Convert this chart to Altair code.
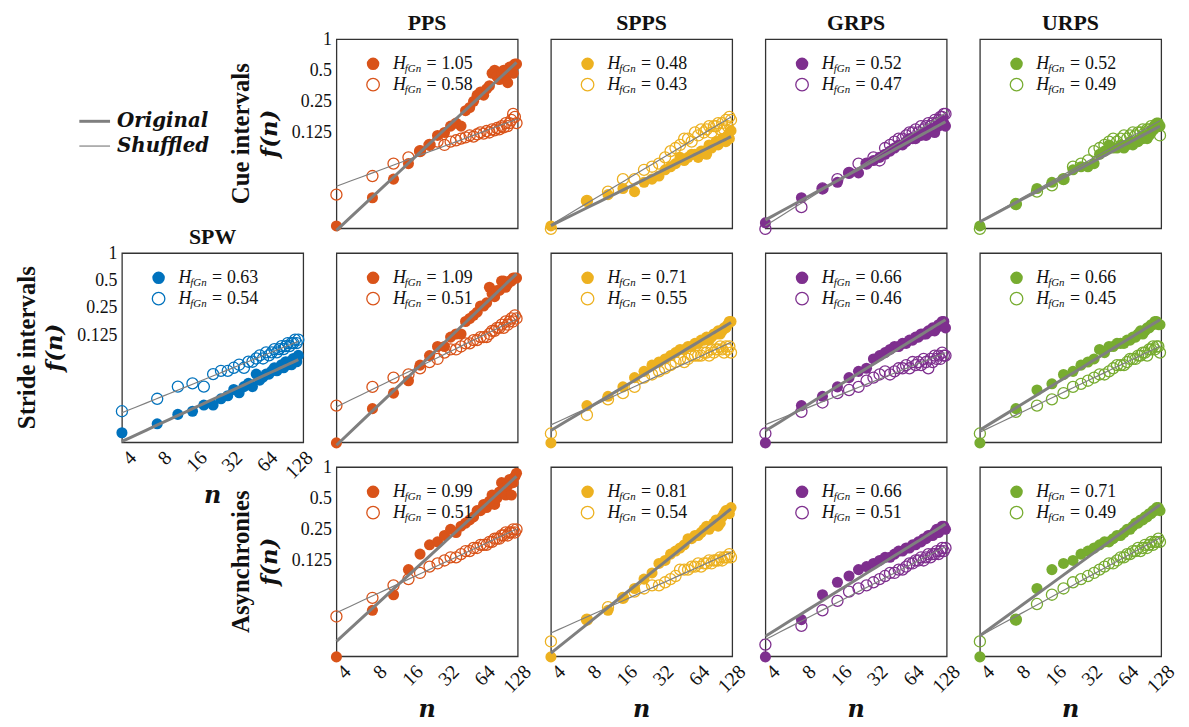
import altair as alt
import pandas as pd

# window sizes n
N = [4, 8, 12, 16, 20, 24, 28, 32, 36, 40, 44, 48, 52, 56, 60, 64,
     68, 72, 76, 80, 84, 88, 92, 96, 100, 104, 108, 112, 116, 120, 124, 128]

# ---- Cue intervals f(n) ----
CUE_PPS_O = [0.0156, 0.0292, 0.0442, 0.0625, 0.0825, 0.0947, 0.117, 0.125, 0.144, 0.154, 0.144, 0.203, 0.218, 0.25, 0.287, 0.308,
             0.287, 0.33, 0.354, 0.467, 0.5, 0.435, 0.406, 0.467, 0.5, 0.435, 0.379, 0.536, 0.536, 0.467, 0.574, 0.574]
CUE_PPS_S = [0.0313, 0.0474, 0.0625, 0.0718, 0.0825, 0.0947, 0.102, 0.0947, 0.102, 0.105, 0.109, 0.112, 0.117, 0.114, 0.120, 0.125,
             0.122, 0.129, 0.125, 0.134, 0.131, 0.138, 0.134, 0.144, 0.140, 0.154, 0.144, 0.154, 0.165, 0.189, 0.177, 0.154]
CUE_SPPS_O = [0.0156, 0.0272, 0.0313, 0.0359, 0.0335, 0.0412, 0.0442, 0.0474, 0.0544, 0.0583, 0.0625, 0.0718, 0.0670, 0.0718, 0.0769, 0.0769,
              0.0718, 0.0825, 0.0825, 0.0769, 0.0947, 0.0884, 0.0947, 0.102, 0.0947, 0.102, 0.109, 0.109, 0.102, 0.117, 0.109, 0.130]
CUE_SPPS_S = [0.0146, 0.0272, 0.0335, 0.0442, 0.0442, 0.0544, 0.0583, 0.0625, 0.0718, 0.0825, 0.0884, 0.0947, 0.109, 0.109, 0.102, 0.125,
              0.117, 0.134, 0.125, 0.134, 0.144, 0.125, 0.144, 0.144, 0.154, 0.134, 0.154, 0.134, 0.165, 0.144, 0.177, 0.165]
CUE_GRPS_O = [0.0167, 0.0292, 0.0359, 0.0412, 0.0508, 0.0508, 0.0625, 0.0670, 0.0718, 0.0769, 0.0825, 0.0884, 0.0947, 0.0947, 0.102, 0.109,
              0.109, 0.109, 0.117, 0.117, 0.125, 0.117, 0.125, 0.134, 0.134, 0.125, 0.144, 0.144, 0.154, 0.165, 0.154, 0.144]
CUE_GRPS_S = [0.0146, 0.0237, 0.0359, 0.0442, 0.0508, 0.0625, 0.0625, 0.0718, 0.0670, 0.0884, 0.0947, 0.102, 0.109, 0.109, 0.117, 0.125,
              0.125, 0.134, 0.125, 0.144, 0.134, 0.144, 0.154, 0.144, 0.154, 0.165, 0.154, 0.165, 0.177, 0.177, 0.189, 0.189]
CUE_URPS_O = [0.0156, 0.0254, 0.0359, 0.0412, 0.0442, 0.0544, 0.0583, 0.0583, 0.0625, 0.0769, 0.0825, 0.0947, 0.0884, 0.0884, 0.0947, 0.0884,
              0.0947, 0.102, 0.0947, 0.102, 0.102, 0.109, 0.109, 0.117, 0.109, 0.117, 0.125, 0.134, 0.144, 0.154, 0.154, 0.144]
CUE_URPS_S = [0.0146, 0.0254, 0.0335, 0.0385, 0.0442, 0.0583, 0.0625, 0.0670, 0.0825, 0.0884, 0.0947, 0.102, 0.109, 0.102, 0.109, 0.117,
              0.109, 0.117, 0.125, 0.117, 0.125, 0.125, 0.134, 0.125, 0.134, 0.134, 0.144, 0.134, 0.144, 0.144, 0.144, 0.117]

# ---- Stride intervals f(n) ----
STR_SPW_O = [0.0107, 0.0134, 0.0170, 0.0184, 0.0215, 0.0215, 0.0252, 0.0272, 0.0319, 0.0293, 0.0343, 0.0372, 0.0343, 0.0470, 0.0404, 0.0436,
             0.0470, 0.0470, 0.0511, 0.0552, 0.0511, 0.0552, 0.0596, 0.0552, 0.0643, 0.0596, 0.0643, 0.0596, 0.0698, 0.0698, 0.0643, 0.0754]
STR_SPW_S = [0.0184, 0.0252, 0.0343, 0.0372, 0.0343, 0.0470, 0.0511, 0.0511, 0.0552, 0.0596, 0.0552, 0.0643, 0.0643, 0.0698, 0.0754, 0.0698,
             0.0814, 0.0754, 0.0814, 0.0884, 0.0814, 0.0884, 0.0954, 0.0884, 0.0954, 0.103, 0.0954, 0.103, 0.103, 0.112, 0.103, 0.112]
STR_PPS_O = [0.0146, 0.0313, 0.0442, 0.0583, 0.0825, 0.102, 0.125, 0.125, 0.154, 0.165, 0.165, 0.218, 0.233, 0.25, 0.268, 0.308,
             0.308, 0.33, 0.467, 0.406, 0.379, 0.435, 0.435, 0.536, 0.536, 0.467, 0.5, 0.536, 0.536, 0.574, 0.574, 0.574]
STR_PPS_S = [0.0335, 0.0508, 0.0625, 0.0670, 0.0769, 0.0884, 0.0947, 0.109, 0.117, 0.117, 0.125, 0.134, 0.134, 0.144, 0.144, 0.154,
             0.154, 0.154, 0.165, 0.177, 0.177, 0.189, 0.189, 0.203, 0.189, 0.218, 0.203, 0.218, 0.233, 0.218, 0.25, 0.233]
STR_SPPS_O = [0.0146, 0.0335, 0.0412, 0.0508, 0.0625, 0.0718, 0.0825, 0.0884, 0.0947, 0.102, 0.109, 0.117, 0.117, 0.125, 0.125, 0.134,
              0.134, 0.144, 0.144, 0.154, 0.144, 0.154, 0.165, 0.165, 0.177, 0.165, 0.177, 0.189, 0.189, 0.203, 0.218, 0.218]
STR_SPPS_S = [0.0180, 0.0272, 0.0385, 0.0442, 0.0508, 0.0625, 0.0670, 0.0718, 0.0769, 0.0825, 0.0884, 0.0947, 0.0884, 0.0947, 0.102, 0.102,
              0.102, 0.102, 0.109, 0.109, 0.102, 0.117, 0.109, 0.117, 0.117, 0.125, 0.117, 0.109, 0.125, 0.117, 0.125, 0.109]
STR_GRPS_O = [0.0146, 0.0335, 0.0412, 0.0508, 0.0625, 0.0718, 0.0769, 0.0947, 0.102, 0.109, 0.117, 0.125, 0.125, 0.134, 0.134, 0.144,
              0.144, 0.154, 0.154, 0.165, 0.165, 0.165, 0.177, 0.177, 0.189, 0.177, 0.189, 0.203, 0.203, 0.218, 0.218, 0.189]
STR_GRPS_S = [0.0180, 0.0292, 0.0359, 0.0442, 0.0474, 0.0508, 0.0583, 0.0625, 0.0670, 0.0718, 0.0670, 0.0718, 0.0769, 0.0769, 0.0825, 0.0769,
              0.0884, 0.0825, 0.0884, 0.0825, 0.0947, 0.0884, 0.0769, 0.0947, 0.0884, 0.102, 0.0947, 0.102, 0.0947, 0.109, 0.102, 0.102]
STR_URPS_O = [0.0146, 0.0313, 0.0474, 0.0544, 0.0670, 0.0718, 0.0825, 0.0884, 0.0947, 0.117, 0.109, 0.125, 0.125, 0.134, 0.134, 0.134,
              0.144, 0.144, 0.154, 0.154, 0.165, 0.177, 0.165, 0.177, 0.189, 0.189, 0.203, 0.203, 0.218, 0.218, 0.203, 0.203]
STR_URPS_S = [0.0180, 0.0292, 0.0335, 0.0385, 0.0442, 0.0508, 0.0544, 0.0583, 0.0625, 0.0670, 0.0670, 0.0718, 0.0769, 0.0825, 0.0825, 0.0825,
              0.0884, 0.0947, 0.0947, 0.0947, 0.102, 0.102, 0.109, 0.109, 0.102, 0.117, 0.117, 0.125, 0.117, 0.125, 0.125, 0.109]

# ---- Asynchronies f(n) ----
ASY_PPS_O = [0.0146, 0.0412, 0.0583, 0.102, 0.144, 0.177, 0.189, 0.218, 0.25, 0.233, 0.268, 0.287, 0.308, 0.33, 0.379, 0.379,
             0.435, 0.406, 0.467, 0.536, 0.435, 0.5, 0.574, 0.707, 0.616, 0.536, 0.66, 0.758, 0.536, 0.707, 0.812, 0.871]
ASY_PPS_S = [0.0359, 0.0544, 0.0718, 0.0825, 0.0947, 0.109, 0.117, 0.125, 0.134, 0.134, 0.144, 0.154, 0.154, 0.165, 0.165, 0.177,
             0.177, 0.177, 0.189, 0.189, 0.203, 0.203, 0.203, 0.218, 0.218, 0.233, 0.218, 0.233, 0.233, 0.25, 0.233, 0.25]
ASY_SPPS_O = [0.0146, 0.0335, 0.0412, 0.0544, 0.0670, 0.0825, 0.0947, 0.117, 0.125, 0.144, 0.154, 0.165, 0.177, 0.203, 0.203, 0.218,
              0.218, 0.233, 0.25, 0.268, 0.25, 0.268, 0.287, 0.308, 0.268, 0.287, 0.33, 0.354, 0.379, 0.379, 0.354, 0.406]
ASY_SPPS_S = [0.0206, 0.0335, 0.0442, 0.0544, 0.0625, 0.0670, 0.0718, 0.0718, 0.0769, 0.0825, 0.0884, 0.102, 0.102, 0.102, 0.109, 0.109,
              0.117, 0.109, 0.117, 0.117, 0.125, 0.117, 0.125, 0.125, 0.125, 0.134, 0.125, 0.134, 0.134, 0.134, 0.144, 0.134]
ASY_GRPS_O = [0.0146, 0.0335, 0.0583, 0.0769, 0.0884, 0.102, 0.109, 0.117, 0.125, 0.134, 0.134, 0.144, 0.154, 0.154, 0.165, 0.165,
              0.177, 0.177, 0.189, 0.189, 0.203, 0.203, 0.218, 0.218, 0.218, 0.233, 0.25, 0.233, 0.25, 0.268, 0.268, 0.25]
ASY_GRPS_S = [0.0192, 0.0292, 0.0412, 0.0508, 0.0625, 0.0670, 0.0718, 0.0769, 0.0825, 0.0884, 0.0947, 0.0947, 0.102, 0.102, 0.109, 0.117,
              0.117, 0.125, 0.125, 0.134, 0.125, 0.134, 0.144, 0.134, 0.144, 0.144, 0.154, 0.144, 0.154, 0.165, 0.154, 0.165]
ASY_URPS_O = [0.0146, 0.0335, 0.0670, 0.102, 0.117, 0.125, 0.144, 0.154, 0.165, 0.177, 0.189, 0.189, 0.203, 0.218, 0.218, 0.233,
              0.25, 0.25, 0.268, 0.287, 0.287, 0.308, 0.308, 0.33, 0.33, 0.354, 0.354, 0.379, 0.379, 0.406, 0.406, 0.379]
ASY_URPS_S = [0.0206, 0.0335, 0.0474, 0.0583, 0.0670, 0.0769, 0.0825, 0.0884, 0.0947, 0.102, 0.109, 0.117, 0.117, 0.125, 0.134, 0.134,
              0.144, 0.144, 0.154, 0.154, 0.165, 0.154, 0.165, 0.177, 0.165, 0.177, 0.189, 0.177, 0.189, 0.189, 0.203, 0.189]

# Hurst exponents (original, shuffled)
H_CUE = {"PPS": (1.05, 0.58), "SPPS": (0.48, 0.43), "GRPS": (0.52, 0.47), "URPS": (0.52, 0.49)}
H_STR = {"SPW": (0.63, 0.54), "PPS": (1.09, 0.51), "SPPS": (0.71, 0.55), "GRPS": (0.66, 0.46), "URPS": (0.66, 0.45)}
H_ASY = {"PPS": (0.99, 0.51), "SPPS": (0.81, 0.54), "GRPS": (0.66, 0.51), "URPS": (0.71, 0.49)}

COLORS = {"SPW": "#0072BD", "PPS": "#D95319", "SPPS": "#EDB120", "GRPS": "#7E2F8E", "URPS": "#77AC30"}

X_TICKS = [4, 8, 16, 32, 64, 128]
Y_TICKS = [0.125, 0.25, 0.5, 1]

SERIF = "Liberation Serif"
BOLDMATH = "DejaVu Serif"
INK = "#111111"
FIT = "#7f7f7f"

PW, PH = 183, 191
XDOM = [4, 131]
XDOM_SPW = [4, 141]
YDOM = [0.0148, 1]
YDOM_SPW = [0.0084, 1]

ONE = pd.DataFrame({"k": [0]})

XAXIS = alt.Axis(values=X_TICKS, format="d", labelAngle=-45, labelAlign="right", labelBaseline="top",
                 labelPadding=5, labelOffset=4, ticks=False, tickSize=0, domain=False, grid=False, title=None,
                 labelFlush=False, labelOverlap=False, labelFont=SERIF, labelFontSize=20, labelColor=INK)
YAXIS = alt.Axis(values=Y_TICKS, format="~g", ticks=False, tickSize=0, domain=False, grid=False, title=None,
                 labelPadding=5, labelFlush=False, labelOverlap=False, labelFont=SERIF, labelFontSize=18,
                 labelColor=INK)


def label(t, x, y, size, font=SERIF, weight="normal", style="normal", align="left",
          baseline="middle", angle=0, color=INK):
    return alt.Chart(ONE).mark_text(
        text=t, font=font, fontSize=size, fontWeight=weight, fontStyle=style,
        align=align, baseline=baseline, angle=angle, color=color
    ).encode(x=alt.value(x), y=alt.value(y))


def panel(orig, shuf, color, hv, xaxis=False, yaxis=False, xdom=XDOM, ydom=YDOM, title=None, rowlab=None):
    df = pd.DataFrame({
        "n": N + N,
        "f": orig + shuf,
        "series": ["Original"] * len(N) + ["Shuffled"] * len(N),
    })
    x = alt.X("n:Q", scale=alt.Scale(type="log", base=2, domain=xdom, nice=False),
              axis=XAXIS if xaxis else None)
    y = alt.Y("f:Q", scale=alt.Scale(type="log", base=2, domain=ydom, nice=False),
              axis=YAXIS if yaxis else None)
    base = alt.Chart(df).encode(x=x, y=y)
    is_o = alt.datum.series == "Original"
    is_s = alt.datum.series == "Shuffled"
    filled = base.transform_filter(is_o).mark_circle(size=125, color=color, opacity=1)
    hollow = base.transform_filter(is_s).mark_point(shape="circle", filled=False, size=125,
                                                    color=color, strokeWidth=1.3, opacity=1)
    fit_o = base.transform_filter(is_o).transform_regression("n", "f", method="pow").mark_line(
        color=FIT, strokeWidth=3)
    fit_s = base.transform_filter(is_s).transform_regression("n", "f", method="pow").mark_line(
        color=FIT, strokeWidth=1.2)
    layers = [filled, hollow, fit_o, fit_s]
    # in-panel legend
    layers += [
        alt.Chart(ONE).mark_circle(size=160, color=color, opacity=1).encode(x=alt.value(37), y=alt.value(25)),
        alt.Chart(ONE).mark_point(shape="circle", filled=False, size=160, color=color, strokeWidth=1.3,
                                  opacity=1).encode(x=alt.value(37), y=alt.value(46)),
    ]
    for yy, hval in ((25, hv[0]), (46, hv[1])):
        layers += [
            label("H", 57, yy, 18, style="italic"),
            label("fGn", 69, yy + 5, 11, style="italic"),
            label("=", 91, yy, 18),
            label(f"{hval:.2f}", 106, yy, 18),
        ]
    if title:
        layers.append(label(title, PW / 2, -9, 22, weight="bold", align="center", baseline="alphabetic"))
    if yaxis:
        layers.append(label("f(n)", -67, PH / 2, 23, font=BOLDMATH, weight="bold", style="italic",
                            align="center", angle=270))
        layers.append(label(rowlab, -96, PH / 2, 25, weight="bold", align="center", angle=270))
    if xaxis:
        layers.append(label("n", PW / 2, 257, 24, font=BOLDMATH, weight="bold", style="italic",
                            align="center", baseline="bottom"))
    return alt.layer(*layers).properties(width=PW, height=PH)


# top-left legend cell
legend_cell = alt.layer(
    alt.Chart(ONE).mark_rule(color=FIT, strokeWidth=3).encode(
        x=alt.value(-43), x2=alt.value(-12), y=alt.value(83)),
    alt.Chart(ONE).mark_rule(color="#9a9a9a", strokeWidth=1.5).encode(
        x=alt.value(-43), x2=alt.value(-12), y=alt.value(108)),
    label("Original", -5, 83, 20, font=BOLDMATH, weight="bold", style="italic"),
    label("Shuffled", -5, 108, 20, font=BOLDMATH, weight="bold", style="italic"),
).properties(width=PW, height=PH, view=alt.ViewBackground(strokeOpacity=0))

empty_cell = alt.Chart(ONE).mark_text(text="").encode(
    x=alt.value(0), y=alt.value(0)
).properties(width=PW, height=PH, view=alt.ViewBackground(strokeOpacity=0))

cells = [
    legend_cell,
    panel(CUE_PPS_O, CUE_PPS_S, COLORS["PPS"], H_CUE["PPS"], yaxis=True, title="PPS", rowlab="Cue intervals"),
    panel(CUE_SPPS_O, CUE_SPPS_S, COLORS["SPPS"], H_CUE["SPPS"], title="SPPS"),
    panel(CUE_GRPS_O, CUE_GRPS_S, COLORS["GRPS"], H_CUE["GRPS"], title="GRPS"),
    panel(CUE_URPS_O, CUE_URPS_S, COLORS["URPS"], H_CUE["URPS"], title="URPS"),

    panel(STR_SPW_O, STR_SPW_S, COLORS["SPW"], H_STR["SPW"], xaxis=True, yaxis=True, xdom=XDOM_SPW,
          ydom=YDOM_SPW, title="SPW", rowlab="Stride intervals"),
    panel(STR_PPS_O, STR_PPS_S, COLORS["PPS"], H_STR["PPS"]),
    panel(STR_SPPS_O, STR_SPPS_S, COLORS["SPPS"], H_STR["SPPS"]),
    panel(STR_GRPS_O, STR_GRPS_S, COLORS["GRPS"], H_STR["GRPS"]),
    panel(STR_URPS_O, STR_URPS_S, COLORS["URPS"], H_STR["URPS"]),

    empty_cell,
    panel(ASY_PPS_O, ASY_PPS_S, COLORS["PPS"], H_ASY["PPS"], xaxis=True, yaxis=True, rowlab="Asynchronies"),
    panel(ASY_SPPS_O, ASY_SPPS_S, COLORS["SPPS"], H_ASY["SPPS"], xaxis=True),
    panel(ASY_GRPS_O, ASY_GRPS_S, COLORS["GRPS"], H_ASY["GRPS"], xaxis=True),
    panel(ASY_URPS_O, ASY_URPS_S, COLORS["URPS"], H_ASY["URPS"], xaxis=True),
]

chart = alt.concat(
    *cells, columns=5, spacing={"row": 25, "column": 33.5}, bounds="flush", align="each",
    padding={"left": 6, "top": 0, "right": 2, "bottom": 0},
).configure_view(stroke="#333333", strokeWidth=1.3)

chart.save("out.html", embed_options={"renderer": "svg", "actions": False})
